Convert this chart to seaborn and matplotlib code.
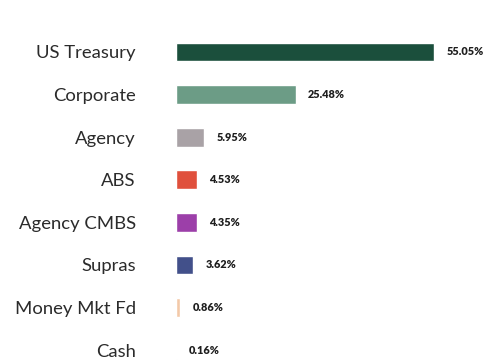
import matplotlib
matplotlib.use("Agg")
import matplotlib.pyplot as plt
import seaborn as sns
import pandas as pd

# Portfolio allocation by sector (% of market value)
sectors = ["US Treasury", "Corporate", "Agency", "ABS", "Agency CMBS",
           "Supras", "Money Mkt Fd", "Cash"]
weights = [55.05, 25.48, 5.95, 4.53, 4.35, 3.62, 0.86, 0.16]
colors = ["#1b4f3c", "#6c9c86", "#a9a2a6", "#e0503c", "#9c3fa9",
          "#42508a", "#f3c9a8", "#e8e8e8"]

df = pd.DataFrame({"sector": sectors, "weight": weights})

sns.set_theme(style="white")
plt.rcParams["font.family"] = ["Lato", "DejaVu Sans"]

fig = plt.figure(figsize=(4.99, 3.62), dpi=100)
ax = fig.add_axes([0.353, 0.0, 0.647, 1.0])

sns.barplot(data=df, x="weight", y="sector", hue="sector",
            palette=dict(zip(sectors, colors)), order=sectors,
            orient="h", width=0.44, legend=False, ax=ax, saturation=1)

ax.set_xlim(0, 68.9)
ax.set_ylim(7.28, -1.22)
ax.set_xlabel("")
ax.set_ylabel("")
ax.set_xticks([])
for s in ax.spines.values():
    s.set_visible(False)
ax.tick_params(axis="y", length=0, pad=29, labelsize=13.3, labelcolor="#2b2b2b")

for i, w in enumerate(weights):
    ax.text(w + 2.6, i, f"{w:.2f}%", va="center", ha="left",
            fontsize=7.8, fontweight="heavy", color="#1e1e1e")

fig.savefig("out.png", dpi=100, facecolor="white")
